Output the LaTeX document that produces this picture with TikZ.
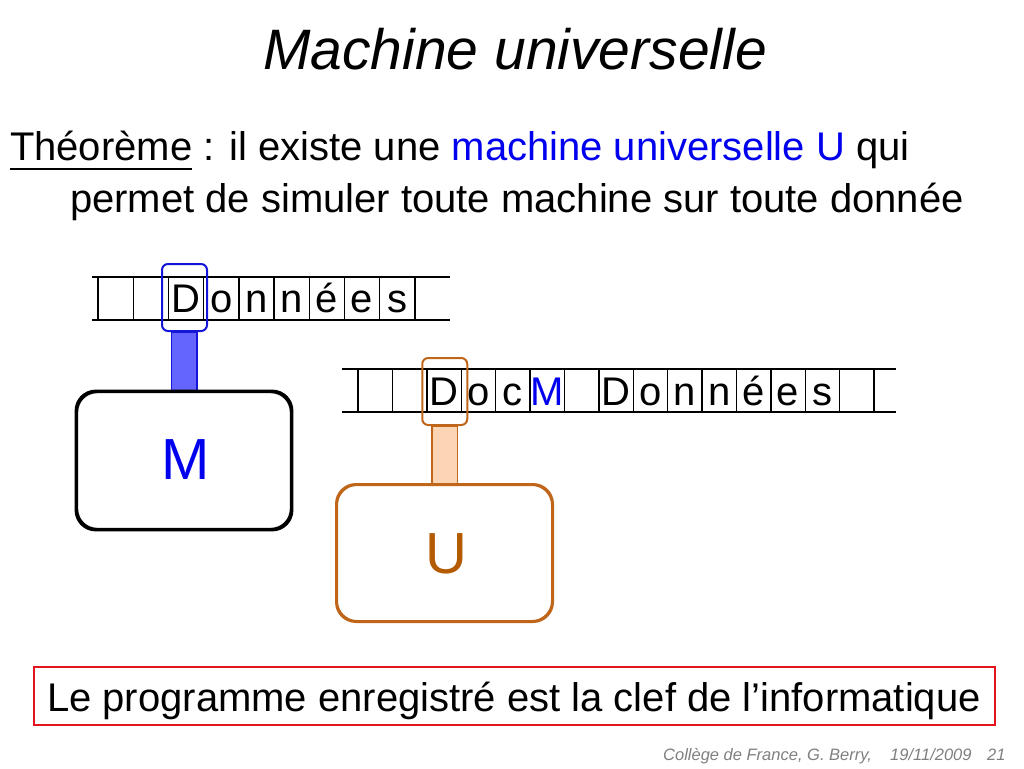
\documentclass[tikz,border=0pt]{standalone}
\usepackage{fontspec}
\setmainfont{Liberation Sans}
\definecolor{ublue}{HTML}{0000EE}
\definecolor{headblue}{HTML}{1515D8}
\definecolor{stemblue}{HTML}{6464FF}
\definecolor{uorange}{HTML}{C0661A}
\definecolor{utext}{HTML}{B45A00}
\definecolor{upeach}{HTML}{FCD5B4}
\definecolor{bred}{HTML}{E3141C}
\definecolor{fgray}{HTML}{7F7F7F}
\begin{document}
\begin{tikzpicture}[x=1pt,y=-1pt,
  txt/.style={font=\fontsize{40}{48}\selectfont, inner sep=0pt, outer sep=0pt},
  titletxt/.style={font=\fontsize{57}{66}\selectfont\itshape, inner sep=0pt},
  bigletter/.style={font=\fontsize{58}{68}\selectfont, inner sep=0pt},
  foot/.style={font=\fontsize{16.5}{19}\selectfont\itshape, text=fgray, inner sep=0pt, anchor=base west},
  tapeline/.style={line width=1.8pt, black},
  cellline/.style={line width=1.4pt, black},
  headMstyle/.style={draw=headblue, line width=2pt, rounded corners=6pt, minimum width=45pt, minimum height=67pt, inner sep=0pt},
  headUstyle/.style={draw=uorange, line width=2pt, rounded corners=6pt, minimum width=45pt, minimum height=67pt, inner sep=0pt},
  stemM/.style={draw=headblue, fill=stemblue, line width=1.2pt},
  stemU/.style={draw=uorange, fill=upeach, line width=1.5pt},
  machM/.style={draw=black, fill=white, line width=2.4pt, rounded corners=20pt, minimum width=214pt, minimum height=137pt, inner sep=0pt},
  machU/.style={draw=uorange, fill=white, line width=2pt, rounded corners=20pt, minimum width=215pt, minimum height=136pt, inner sep=0pt},
  cellchar/.style={font=\fontsize{40}{48}\selectfont, inner sep=0pt, anchor=base}
]
\useasboundingbox (0,0) rectangle (1024,768);

% title and theorem
\node[titletxt, anchor=base] (title) at (515,69) {Machine universelle};
\node[txt, anchor=base west] (thA) at (10,160) {Théorème};
\node[txt, anchor=base west] (thB) at (thA.base east) {\hspace*{0.278em}: il existe une \textcolor{ublue}{machine universelle U} qui};
\draw[line width=2.5pt] ([yshift=-9pt]thA.base west) -- ([yshift=-9pt]thA.base east);
\node[txt, anchor=base west] (thC) at (70,212) {permet de simuler toute machine sur toute donnée};

% machine boxes
\node[machM] (boxM) at (184,460.5) {};
\node[machU] (boxU) at (444.5,553) {};
\node[bigletter, text=ublue, anchor=base] (letM) at (186,479) {M};
\node[bigletter, text=utext, anchor=base] (letU) at (446,573) {U};

% tape 1
\draw[tapeline] (92,277) -- (450,277);
\draw[tapeline] (92,320) -- (450,320);
\foreach \k in {0,...,9} \draw[cellline] ({98+35.2*\k},277) -- ({98+35.2*\k},320);
\foreach \c/\k in {D/2,o/3,n/4,n/5,é/6,e/7,s/8}
  \node[cellchar] (ta\k) at ({98+35.2*(\k+0.5)},312) {\c};

% tape 2
\draw[tapeline] (342,369) -- (896,369);
\draw[tapeline] (342,412) -- (896,412);
\foreach \k in {0,...,15} \draw[cellline] ({358+34.4*\k},369) -- ({358+34.4*\k},412);
\foreach \c/\k in {D/2,o/3,c/4,D/7,o/8,n/9,n/10,é/11,e/12,s/13}
  \node[cellchar] (tb\k) at ({358+34.4*(\k+0.5)},405) {\c};
\node[cellchar, text=ublue] (tb5) at ({358+34.4*5.5},405) {M};

% heads
\node[headMstyle] (hM) at (184.5,297.5) {};
\node[headUstyle] (hU) at (444.75,391.5) {};
\draw[stemM] ([xshift=-13pt]hM.south) rectangle ([xshift=13pt]boxM.north);
\draw[stemU] ([xshift=-13pt]hU.south) rectangle ([xshift=13pt]boxU.north);
\draw[draw=black, line width=2.4pt, rounded corners=20pt] (boxM.north west) rectangle (boxM.south east);
\draw[draw=uorange, line width=2pt, rounded corners=20pt] (boxU.north west) rectangle (boxU.south east);

% bottom statement
\node[draw=bred, line width=2pt, minimum width=961pt, minimum height=58pt, inner sep=0pt] (stmt) at (514,696) {};
\node[txt, anchor=base] (stmtxt) at (514,711) {Le programme enregistré est la clef de l’informatique};

% footer
\node[foot] (f1) at (663,760) {Collège de France, G. Berry,};
\node[foot] (f2) at (890,760) {19/11/2009};
\node[foot] (f3) at (987,760) {21};
\end{tikzpicture}
\end{document}
